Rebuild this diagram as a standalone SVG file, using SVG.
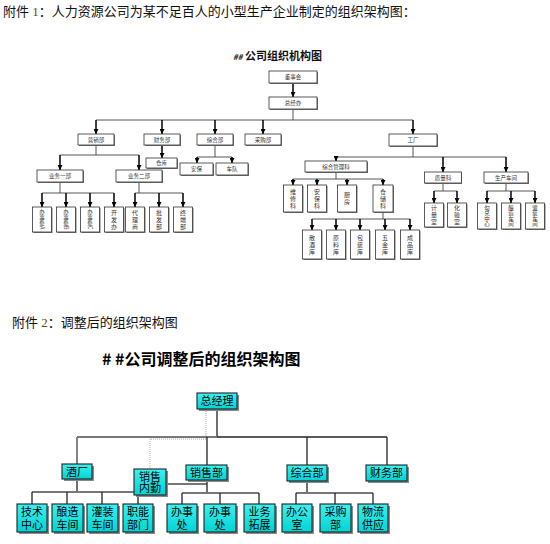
<svg xmlns="http://www.w3.org/2000/svg" width="550" height="544" viewBox="0 0 550 544">
<defs>
<style>
.hdr{font-family:"Liberation Serif","Noto Sans CJK SC",serif;font-size:13px;fill:#111}
.t1{font-family:"Noto Sans CJK SC",sans-serif;font-size:11px;font-weight:bold;fill:#111}
.t2{font-family:"Noto Sans CJK SC",sans-serif;font-size:16px;font-weight:bold;fill:#000}
.b1 rect.s{fill:#777}
.b1 rect.f{fill:#fff;stroke:#333;stroke-width:0.8}
.b1 text{font-family:"Noto Sans CJK SC",sans-serif;font-size:5.5px;fill:#333;text-anchor:middle}
.b1 text.v{writing-mode:vertical-rl;font-size:6px;letter-spacing:1px}
.b1 text.v4{writing-mode:vertical-rl;font-size:5.5px}
.c1 line{stroke:#444;stroke-width:0.9;fill:none}
.c1 .a{stroke:#000;stroke-width:1.5;marker-end:url(#ah)}
.b2 rect.s{fill:#8a8a8a}
.b2 rect.f{fill:url(#cy);stroke:#222;stroke-width:1.1}
.b2 text{font-family:"Noto Sans CJK SC",sans-serif;font-size:11px;fill:#000;text-anchor:middle}
.c2 line,.c2 polyline{stroke:#222;stroke-width:1.3;fill:none}
.c2 .g{stroke:#777;stroke-width:1.8}
.c2 .d{stroke:#aaa;stroke-width:1;stroke-dasharray:1,1}
</style>
<linearGradient id="cy" x1="0" y1="0" x2="0" y2="1"><stop offset="0" stop-color="#3cf0f0"/><stop offset="1" stop-color="#00d4d4"/></linearGradient>
<marker id="ah" viewBox="0 0 6 6" refX="6" refY="3" markerUnits="userSpaceOnUse" markerWidth="5" markerHeight="5" orient="auto"><path d="M0,0 L6,3 L0,6 z" fill="#000"/></marker>
</defs>
<rect width="550" height="544" fill="#fff"/>
<text class="hdr" x="3" y="16">附件 <tspan fill="#6b4a00">1</tspan>：人力资源公司为某不足百人的小型生产企业制定的组织架构图：</text>
<text class="t1" x="233" y="60"><tspan font-style="italic" font-size="8">##</tspan> 公司组织机构图</text>
<text class="hdr" x="12" y="327">附件 <tspan fill="#6b4a00">2</tspan>：调整后的组织架构图</text>
<text class="t2" x="102" y="365">#  #公司调整后的组织架构图</text>

<g id="connectors-1" class="c1">
<line class="a" x1="293" y1="83" x2="293" y2="97"/>
<line x1="293" y1="109" x2="293" y2="120"/>
<line x1="96" y1="120" x2="413" y2="120"/>
<line class="a" x1="96" y1="120" x2="96" y2="134"/>
<line class="a" x1="162" y1="120" x2="162" y2="134"/>
<line class="a" x1="215" y1="120" x2="215" y2="134"/>
<line class="a" x1="263" y1="120" x2="263" y2="134"/>
<line class="a" x1="413" y1="120" x2="413" y2="134"/>
<line class="a" x1="162" y1="145" x2="162" y2="158"/>
<line x1="215" y1="145" x2="215" y2="157"/>
<line x1="197" y1="157" x2="232" y2="157"/>
<line class="a" x1="197" y1="157" x2="197" y2="163"/>
<line class="a" x1="232" y1="157" x2="232" y2="163"/>
<line x1="96" y1="145" x2="96" y2="155"/>
<line x1="60" y1="155" x2="139" y2="155"/>
<line class="a" x1="60" y1="155" x2="60" y2="170"/>
<line class="a" x1="139" y1="155" x2="139" y2="170"/>
<line x1="60" y1="182" x2="60" y2="193"/>
<line x1="42" y1="193" x2="114" y2="193"/>
<line class="a" x1="42" y1="193" x2="42" y2="207"/>
<line class="a" x1="66" y1="193" x2="66" y2="207"/>
<line class="a" x1="90" y1="193" x2="90" y2="207"/>
<line class="a" x1="114" y1="193" x2="114" y2="207"/>
<line x1="139" y1="182" x2="139" y2="193"/>
<line x1="135" y1="193" x2="183" y2="193"/>
<line class="a" x1="135" y1="193" x2="135" y2="207"/>
<line class="a" x1="159" y1="193" x2="159" y2="207"/>
<line class="a" x1="183" y1="193" x2="183" y2="207"/>
<line x1="413" y1="146" x2="413" y2="157"/>
<line x1="336" y1="157" x2="506" y2="157"/>
<line class="a" x1="336" y1="157" x2="336" y2="161"/>
<line class="a" x1="443" y1="157" x2="443" y2="172"/>
<line class="a" x1="506" y1="157" x2="506" y2="172"/>
<line x1="336" y1="172" x2="336" y2="179"/>
<line x1="293" y1="179" x2="383" y2="179"/>
<line class="a" x1="293" y1="179" x2="293" y2="185"/>
<line class="a" x1="317" y1="179" x2="317" y2="185"/>
<line class="a" x1="347" y1="179" x2="347" y2="185"/>
<line class="a" x1="383" y1="179" x2="383" y2="185"/>
<line x1="383" y1="212" x2="383" y2="219"/>
<line x1="312" y1="219" x2="410" y2="219"/>
<line class="a" x1="312" y1="219" x2="312" y2="230"/>
<line class="a" x1="336" y1="219" x2="336" y2="230"/>
<line class="a" x1="360" y1="219" x2="360" y2="230"/>
<line class="a" x1="385" y1="219" x2="385" y2="230"/>
<line class="a" x1="410" y1="219" x2="410" y2="230"/>
<line x1="443" y1="183" x2="443" y2="191"/>
<line x1="434" y1="191" x2="457" y2="191"/>
<line class="a" x1="434" y1="191" x2="434" y2="203"/>
<line class="a" x1="457" y1="191" x2="457" y2="203"/>
<line x1="506" y1="183" x2="506" y2="191"/>
<line x1="487" y1="191" x2="535" y2="191"/>
<line class="a" x1="487" y1="191" x2="487" y2="203"/>
<line class="a" x1="511" y1="191" x2="511" y2="203"/>
<line class="a" x1="535" y1="191" x2="535" y2="203"/>
</g>

<g id="n-dongshihui" class="b1"><rect class="s" x="270" y="72" width="48" height="12"/><rect class="f" x="269" y="71" width="48" height="12"/><text x="293" y="79">董事会</text></g>
<g id="n-zongjingban" class="b1"><rect class="s" x="270" y="98" width="48" height="12"/><rect class="f" x="269" y="97" width="48" height="12"/><text x="293" y="105">总经办</text></g>
<g id="n-yingxiao" class="b1"><rect class="s" x="79" y="135" width="36" height="11"/><rect class="f" x="78" y="134" width="36" height="11"/><text x="96" y="141.5">营销部</text></g>
<g id="n-caiwu" class="b1"><rect class="s" x="145" y="135" width="36" height="11"/><rect class="f" x="144" y="134" width="36" height="11"/><text x="162" y="141.5">财务部</text></g>
<g id="n-zonghe" class="b1"><rect class="s" x="198" y="135" width="36" height="11"/><rect class="f" x="197" y="134" width="36" height="11"/><text x="215" y="141.5">综合部</text></g>
<g id="n-caigou" class="b1"><rect class="s" x="246" y="135" width="36" height="11"/><rect class="f" x="245" y="134" width="36" height="11"/><text x="263" y="141.5">采购部</text></g>
<g id="n-gongchang" class="b1"><rect class="s" x="390" y="135" width="48" height="12"/><rect class="f" x="389" y="134" width="48" height="12"/><text x="413" y="142">工厂</text></g>
<g id="n-cangku" class="b1"><rect class="s" x="147" y="159" width="31" height="10"/><rect class="f" x="146" y="158" width="31" height="10"/><text x="161.5" y="165">仓库</text></g>
<g id="n-anbao" class="b1"><rect class="s" x="181" y="164" width="33" height="12"/><rect class="f" x="180" y="163" width="33" height="12"/><text x="196.5" y="171">安保</text></g>
<g id="n-chedui" class="b1"><rect class="s" x="217" y="164" width="32" height="12"/><rect class="f" x="216" y="163" width="32" height="12"/><text x="232" y="171">车队</text></g>
<g id="n-yewu1" class="b1"><rect class="s" x="38" y="171" width="46" height="12"/><rect class="f" x="37" y="170" width="46" height="12"/><text x="60" y="178">业务一部</text></g>
<g id="n-yewu2" class="b1"><rect class="s" x="117" y="171" width="46" height="12"/><rect class="f" x="116" y="170" width="46" height="12"/><text x="139" y="178">业务二部</text></g>

<g id="n-bscA" class="b1"><rect class="s" x="33.5" y="208" width="19" height="25"/><rect class="f" x="32.5" y="207" width="19" height="25"/><text class="v4" x="42" y="219.5">办事处A</text></g>
<g id="n-bscB" class="b1"><rect class="s" x="57.5" y="208" width="19" height="25"/><rect class="f" x="56.5" y="207" width="19" height="25"/><text class="v4" x="66" y="219.5">办事处B</text></g>
<g id="n-bscC" class="b1"><rect class="s" x="81.5" y="208" width="19" height="25"/><rect class="f" x="80.5" y="207" width="19" height="25"/><text class="v4" x="90" y="219.5">办事处C</text></g>
<g id="n-kaifa" class="b1"><rect class="s" x="105.5" y="208" width="19" height="25"/><rect class="f" x="104.5" y="207" width="19" height="25"/><text class="v" x="114" y="220">开发办</text></g>
<g id="n-daili" class="b1"><rect class="s" x="126.5" y="208" width="19" height="25"/><rect class="f" x="125.5" y="207" width="19" height="25"/><text class="v" x="135" y="220">代理商</text></g>
<g id="n-pifa" class="b1"><rect class="s" x="150.5" y="208" width="19" height="25"/><rect class="f" x="149.5" y="207" width="19" height="25"/><text class="v" x="159" y="220">批发部</text></g>
<g id="n-zhongduan" class="b1"><rect class="s" x="174.5" y="208" width="19" height="25"/><rect class="f" x="173.5" y="207" width="19" height="25"/><text class="v" x="183" y="220">终端部</text></g>

<g id="n-zhgl" class="b1"><rect class="s" x="306" y="162" width="62" height="11"/><rect class="f" x="305" y="161" width="62" height="11"/><text x="336" y="168.5">综合管理科</text></g>
<g id="n-zhiliang" class="b1"><rect class="s" x="425" y="173" width="37" height="11"/><rect class="f" x="424.5" y="172" width="37" height="11"/><text x="443" y="179.5">质量科</text></g>
<g id="n-shengchan" class="b1"><rect class="s" x="485" y="173" width="44" height="11"/><rect class="f" x="484" y="172" width="44" height="11"/><text x="506" y="179.5">生产车间</text></g>

<g id="n-weixiu" class="b1"><rect class="s" x="284.5" y="186" width="19" height="27"/><rect class="f" x="283.5" y="185" width="19" height="27"/><text class="v" x="293" y="199">维修科</text></g>
<g id="n-anbaoke" class="b1"><rect class="s" x="308.5" y="186" width="19" height="27"/><rect class="f" x="307.5" y="185" width="19" height="27"/><text class="v" x="317" y="199">安保科</text></g>
<g id="n-chufang" class="b1"><rect class="s" x="338.5" y="186" width="19" height="27"/><rect class="f" x="337.5" y="185" width="19" height="27"/><text class="v" x="347" y="199">厨房</text></g>
<g id="n-cangchu" class="b1"><rect class="s" x="374" y="186" width="20" height="27"/><rect class="f" x="373" y="185" width="20" height="27"/><text class="v" x="383" y="199">仓储科</text></g>

<g id="n-sanjiu" class="b1"><rect class="s" x="303.5" y="231" width="19" height="29"/><rect class="f" x="302.5" y="230" width="19" height="29"/><text class="v" x="312" y="245">散酒库</text></g>
<g id="n-yuanliao" class="b1"><rect class="s" x="327.5" y="231" width="19" height="29"/><rect class="f" x="326.5" y="230" width="19" height="29"/><text class="v" x="336" y="245">原料库</text></g>
<g id="n-baozhuang" class="b1"><rect class="s" x="351.5" y="231" width="19" height="29"/><rect class="f" x="350.5" y="230" width="19" height="29"/><text class="v" x="360" y="245">包装库</text></g>
<g id="n-wujin" class="b1"><rect class="s" x="376.5" y="231" width="19" height="29"/><rect class="f" x="375.5" y="230" width="19" height="29"/><text class="v" x="385" y="245">五金库</text></g>
<g id="n-chengpin" class="b1"><rect class="s" x="401.5" y="231" width="19" height="29"/><rect class="f" x="400.5" y="230" width="19" height="29"/><text class="v" x="410" y="245">成品库</text></g>

<g id="n-jiliang" class="b1"><rect class="s" x="425.5" y="204" width="19" height="24"/><rect class="f" x="424.5" y="203" width="19" height="24"/><text class="v" x="434" y="215.5">计量室</text></g>
<g id="n-huayan" class="b1"><rect class="s" x="448.5" y="204" width="19" height="24"/><rect class="f" x="447.5" y="203" width="19" height="24"/><text class="v" x="457" y="215.5">化验室</text></g>
<g id="n-goudui" class="b1"><rect class="s" x="478.5" y="204" width="19" height="26"/><rect class="f" x="477.5" y="203" width="19" height="26"/><text class="v4" x="487" y="216">勾兑中心</text></g>
<g id="n-niangzao" class="b1"><rect class="s" x="502.5" y="204" width="19" height="26"/><rect class="f" x="501.5" y="203" width="19" height="26"/><text class="v4" x="511" y="216">酿造车间</text></g>
<g id="n-guanzhuang" class="b1"><rect class="s" x="526.5" y="204" width="19" height="26"/><rect class="f" x="525.5" y="203" width="19" height="26"/><text class="v4" x="535" y="216">灌装车间</text></g>

<g id="connectors-2" class="c2">
<polyline class="d" points="206,409 206,439 150,439 150,469"/>
<line x1="217" y1="409" x2="217" y2="437"/>
<line class="g" x1="77" y1="437" x2="217" y2="437"/>
<line x1="217" y1="437" x2="387" y2="437"/>
<line class="g" x1="77" y1="437" x2="77" y2="464"/>
<line x1="207" y1="437" x2="207" y2="465"/>
<line x1="307" y1="437" x2="307" y2="465"/>
<line x1="387" y1="437" x2="387" y2="465"/>
<line x1="77" y1="479" x2="77" y2="492"/>
<line class="g" x1="32" y1="492" x2="138" y2="492"/>
<line x1="32" y1="492" x2="32" y2="504"/>
<line x1="67" y1="492" x2="67" y2="504"/>
<line x1="102" y1="492" x2="102" y2="504"/>
<line x1="138" y1="492" x2="138" y2="504"/>
<line class="g" x1="166" y1="484" x2="207" y2="484"/>
<line x1="207" y1="480" x2="207" y2="493"/>
<line class="g" x1="182" y1="493" x2="259" y2="493"/>
<line x1="182" y1="493" x2="182" y2="504"/>
<line x1="220" y1="493" x2="220" y2="504"/>
<line x1="259" y1="493" x2="259" y2="504"/>
<line x1="307" y1="481" x2="307" y2="493"/>
<line class="g" x1="296" y1="493" x2="373" y2="493"/>
<line x1="296" y1="493" x2="296" y2="504"/>
<line x1="335" y1="493" x2="335" y2="504"/>
<line x1="373" y1="493" x2="373" y2="504"/>
</g>

<g id="m-zongjingli" class="b2"><rect class="s" x="199" y="395" width="40" height="16"/><rect class="f" x="197" y="393" width="40" height="16"/><text x="217" y="405">总经理</text></g>
<g id="m-jiuchang" class="b2"><rect class="s" x="64" y="466" width="30" height="15"/><rect class="f" x="62" y="464" width="30" height="15"/><text x="77" y="475.5">酒厂</text></g>
<g id="m-xiaoshou" class="b2"><rect class="s" x="188" y="467" width="41" height="15"/><rect class="f" x="186" y="465" width="41" height="15"/><text x="206.5" y="476.5">销售部</text></g>
<g id="m-zonghe" class="b2"><rect class="s" x="289" y="467" width="40" height="16"/><rect class="f" x="287" y="465" width="40" height="16"/><text x="307" y="477">综合部</text></g>
<g id="m-caiwu" class="b2"><rect class="s" x="368" y="467" width="41" height="16"/><rect class="f" x="366" y="465" width="41" height="16"/><text x="386.5" y="477">财务部</text></g>
<g id="m-neiqin" class="b2"><rect class="s" x="136" y="471" width="32" height="26"/><rect class="f" x="134" y="469" width="32" height="26"/><text font-size="10.5"><tspan x="150" y="480.5">销售</tspan><tspan x="150" y="492">内勤</tspan></text></g>

<g id="m-jishu" class="b2"><rect class="s" x="19" y="506" width="30" height="28"/><rect class="f" x="17" y="504" width="30" height="28"/><text><tspan x="32" y="516">技术</tspan><tspan x="32" y="529">中心</tspan></text></g>
<g id="m-niangzao" class="b2"><rect class="s" x="54" y="506" width="31" height="28"/><rect class="f" x="52" y="504" width="31" height="28"/><text><tspan x="67.5" y="516">酿造</tspan><tspan x="67.5" y="529">车间</tspan></text></g>
<g id="m-guanzhuang" class="b2"><rect class="s" x="89" y="506" width="31" height="28"/><rect class="f" x="87" y="504" width="31" height="28"/><text><tspan x="102.5" y="516">灌装</tspan><tspan x="102.5" y="529">车间</tspan></text></g>
<g id="m-zhineng" class="b2"><rect class="s" x="125" y="506" width="30" height="28"/><rect class="f" x="123" y="504" width="30" height="28"/><text><tspan x="138" y="516">职能</tspan><tspan x="138" y="529">部门</tspan></text></g>
<g id="m-bsc1" class="b2"><rect class="s" x="169" y="506" width="30" height="28"/><rect class="f" x="167" y="504" width="30" height="28"/><text><tspan x="182" y="516">办事</tspan><tspan x="182" y="529">处</tspan></text></g>
<g id="m-bsc2" class="b2"><rect class="s" x="206" y="506" width="32" height="28"/><rect class="f" x="204" y="504" width="32" height="28"/><text><tspan x="220" y="516">办事</tspan><tspan x="220" y="529">处</tspan></text></g>
<g id="m-tuozhan" class="b2"><rect class="s" x="246" y="506" width="31" height="28"/><rect class="f" x="244" y="504" width="31" height="28"/><text><tspan x="259.5" y="516">业务</tspan><tspan x="259.5" y="529">拓展</tspan></text></g>
<g id="m-bangong" class="b2"><rect class="s" x="284" y="506" width="30" height="28"/><rect class="f" x="282" y="504" width="30" height="28"/><text><tspan x="297" y="516">办公</tspan><tspan x="297" y="529">室</tspan></text></g>
<g id="m-caigou" class="b2"><rect class="s" x="322" y="506" width="31" height="28"/><rect class="f" x="320" y="504" width="31" height="28"/><text><tspan x="335.5" y="516">采购</tspan><tspan x="335.5" y="529">部</tspan></text></g>
<g id="m-wuliu" class="b2"><rect class="s" x="360" y="506" width="30" height="28"/><rect class="f" x="358" y="504" width="30" height="28"/><text><tspan x="373" y="516">物流</tspan><tspan x="373" y="529">供应</tspan></text></g>
</svg>
